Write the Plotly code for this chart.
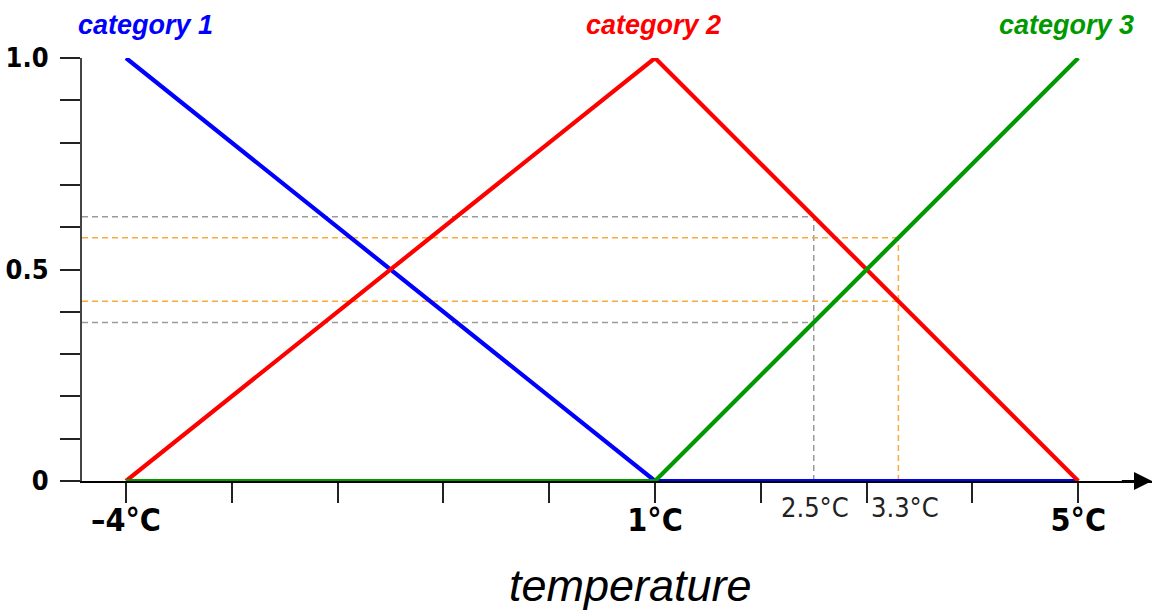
import plotly.graph_objects as go

# Membership functions (triangular), temperature in °C
temps = [-4, 1, 5]
cat1 = [1, 0, 0]
cat2 = [0, 1, 0]
cat3 = [0, 0, 1]
series_names = ["category 1", "category 2", "category 3"]
series_colors = ["#0000ff", "#ff0000", "#009a00"]

# Example readings and their membership degrees (category 2, category 3)
readings = [2.5, 3.3]
reading_labels = ["2.5°C", "3.3°C"]
deg_cat2 = [0.625, 0.425]
deg_cat3 = [0.375, 0.575]
reading_colors = ["#9a9a9a", "#f7ac3a"]

x_ticks = [-4, -3, -2, -1, 0, 1, 2, 3, 4, 5]
x_tick_text = ["–4°C", "", "", "", "", "1°C", "", "", "", "5°C"]
y_ticks = [0, 0.5, 1.0]
y_tick_text = ["0", "0.5", "1.0"]

X_MIN, X_MAX = -4.416, 5.697
NARROW = "Liberation Sans Narrow, DejaVu Sans Condensed, Arial Narrow, sans-serif"
SANS = "Liberation Sans, Arial, sans-serif"

fig = go.Figure()

# dashed guide lines from each reading up to the curves and across to the y axis
for xr, d2, d3, col in zip(readings, deg_cat2, deg_cat3, reading_colors):
    top = max(d2, d3)
    fig.add_trace(go.Scatter(x=[xr, xr], y=[0, top], mode="lines",
                             line=dict(color=col, width=1.5, dash="6px,4px"),
                             hoverinfo="skip", showlegend=False))
    for d in (d2, d3):
        fig.add_trace(go.Scatter(x=[X_MIN, xr], y=[d, d], mode="lines",
                                 line=dict(color=col, width=1.5, dash="6px,4px"),
                                 hoverinfo="skip", showlegend=False))

for name, ys, col in zip(series_names, [cat1, cat2, cat3], series_colors):
    fig.add_trace(go.Scatter(x=temps, y=ys, mode="lines", name=name,
                             line=dict(color=col, width=4.2),
                             cliponaxis=False, showlegend=False))

annotations = []
# category labels above the peaks
for name, col, xp, shift in zip(series_names, series_colors, temps, [19, -2, -12]):
    annotations.append(dict(x=xp, y=1, xref="x", yref="y", text=f"<b><i>{name}</i></b>",
                            showarrow=False, xshift=shift, yshift=33,
                            font=dict(family=SANS, size=27, color=col)))

# reading labels under the axis
for xr, lab, shift in zip(readings, reading_labels, [1, 7]):
    annotations.append(dict(x=xr, y=-0.0615, xref="x", yref="paper", text=lab,
                            showarrow=False, xshift=shift, yanchor="middle",
                            font=dict(family=NARROW, size=27, color="#222222")))

# axis title
annotations.append(dict(x=0.513, y=-0.248, xref="paper", yref="paper",
                        text="<i>temperature</i>", showarrow=False, yanchor="middle",
                        font=dict(family=SANS, size=45, color="#000000")))

# arrow head at the end of the x axis
annotations.append(dict(x=X_MAX, y=0, ax=X_MAX - 0.3, ay=0, xref="x", yref="y",
                        axref="x", ayref="y", text="", showarrow=True,
                        arrowhead=2, arrowsize=1.8, arrowwidth=2, arrowcolor="#000000"))

fig.update_layout(
    width=1153, height=613,
    margin=dict(l=82, r=1, t=58, b=132),
    plot_bgcolor="white", paper_bgcolor="white",
    annotations=annotations,
    xaxis=dict(range=[X_MIN, X_MAX], showgrid=False, zeroline=False, automargin=False,
               showline=True, linecolor="#000000", linewidth=2,
               tickmode="array", tickvals=x_ticks, ticktext=x_tick_text,
               ticks="outside", ticklen=20, tickwidth=1.5, tickcolor="#222222",
               tickfont=dict(family=NARROW, size=32, color="#000000", weight="bold"),
               ticklabelstandoff=-10),
    yaxis=dict(range=[0, 1], showgrid=False, zeroline=False, automargin=False,
               showline=True, linecolor="#444444", linewidth=2,
               tickmode="array", tickvals=y_ticks, ticktext=y_tick_text,
               ticks="outside", ticklen=20, tickwidth=1.5, tickcolor="#222222",
               minor=dict(tickmode="linear", tick0=0, dtick=0.1, ticks="outside",
                          ticklen=20, tickwidth=1.5, tickcolor="#222222"),
               tickfont=dict(family=NARROW, size=27, color="#000000", weight="bold"),
               ticklabelstandoff=6),
)

fig.write_html("out.html")
